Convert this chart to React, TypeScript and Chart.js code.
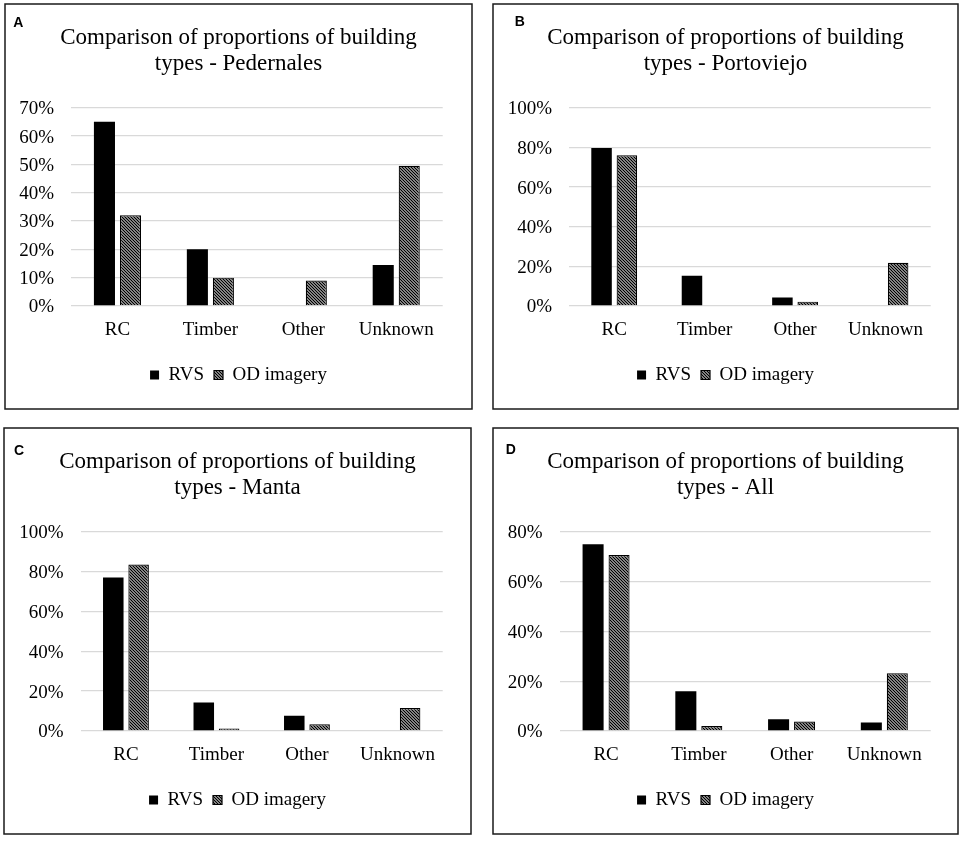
import React, { useEffect, useRef } from "react";
import { Chart, registerables } from "chart.js";
Chart.register(...registerables);

const categories = ["RC", "Timber", "Other", "Unknown"];
const seriesNames = ["RVS", "OD imagery"];

const pedernalesRVS = [65, 20, 0, 14.5];
const pedernalesOD = [32, 10, 9, 49.5];
const portoviejoRVS = [79.7, 15.3, 4.3, 0];
const portoviejoOD = [76, 0, 2.2, 21.8];
const mantaRVS = [77, 14.3, 7.6, 0];
const mantaOD = [83.5, 1.2, 3.4, 11.5];
const allRVS = [75, 16, 4.7, 3.4];
const allOD = [70.6, 2, 3.8, 23.2];

const titleLine1 = "Comparison of proportions of building";
const titleLines2 = ["types - Pedernales", "types - Portoviejo", "types - Manta", "types - All"];
const panelLetters = ["A", "B", "C", "D"];
const yMaxes = [70, 100, 100, 80];
const ySteps = [10, 20, 20, 20];

const rvsSeries = [pedernalesRVS, portoviejoRVS, mantaRVS, allRVS];
const odSeries = [pedernalesOD, portoviejoOD, mantaOD, allOD];

// layout (positions, not data)
const panelBoxes = [
  { x: 4, y: 3, w: 469, h: 407, left: 67, right: 30.3, lx: 9.3, ly: 23.7 },
  { x: 492, y: 3, w: 467, h: 407, left: 77, right: 28.3, lx: 22.7, ly: 23 },
  { x: 3, y: 427, w: 469, h: 408, left: 77.7, right: 29.3, lx: 11, ly: 28 },
  { x: 492, y: 427, w: 467, h: 408, left: 67.7, right: 28.3, lx: 13.7, ly: 27.3 },
];

const SERIF = '"Liberation Serif", "Times New Roman", serif';

function makeHatch(): CanvasPattern | string {
  const c = document.createElement("canvas");
  const s = 3;
  c.width = s;
  c.height = s;
  const g = c.getContext("2d");
  if (!g) return "#888";
  g.fillStyle = "#fff";
  g.fillRect(0, 0, s, s);
  g.strokeStyle = "#000";
  g.lineWidth = 1.4;
  g.beginPath();
  g.moveTo(-1, -1);
  g.lineTo(s + 1, s + 1);
  g.moveTo(-1, s - 1);
  g.lineTo(1, s + 1);
  g.moveTo(s - 1, -1);
  g.lineTo(s + 1, 1);
  g.stroke();
  return g.createPattern(c, "repeat") || "#888";
}

function Panel({ idx }: { idx: number }) {
  const ref = useRef<HTMLCanvasElement | null>(null);
  const box = panelBoxes[idx];
  useEffect(() => {
    if (!ref.current) return;
    const hatch = makeHatch();
    const framePlugin = {
      id: "frame" + idx,
      afterDraw(chart: any) {
        const ctx = chart.ctx;
        ctx.save();
        ctx.strokeStyle = "#1a1a1a";
        ctx.lineWidth = 1.5;
        ctx.strokeRect(1, 1, chart.width - 2, chart.height - 2);
        ctx.fillStyle = "#000";
        ctx.font = 'bold 14px "Liberation Sans", Arial, sans-serif';
        ctx.textBaseline = "alphabetic";
        ctx.textAlign = "left";
        ctx.fillText(panelLetters[idx], box.lx, box.ly);
        ctx.restore();
      },
    };
    const chart = new Chart(ref.current, {
      type: "bar",
      data: {
        labels: categories,
        datasets: [
          {
            label: seriesNames[0],
            data: rvsSeries[idx],
            backgroundColor: "#000",
            borderWidth: 0,
            categoryPercentage: 0.56,
            barPercentage: 0.81,
            yAxisID: "y",
          },
          {
            label: seriesNames[1],
            data: odSeries[idx],
            backgroundColor: hatch as any,
            borderColor: "#000",
            borderWidth: 1.2,
            categoryPercentage: 0.56,
            barPercentage: 0.81,
            yAxisID: "y",
          },
        ],
      },
      options: {
        responsive: false,
        animation: false,
        devicePixelRatio: 1,
        layout: { padding: { left: 0, right: 0, top: 0, bottom: 15.5 } },
        plugins: {
          title: {
            display: true,
            text: [titleLine1, titleLines2[idx]],
            color: "#000",
            font: { family: SERIF, size: 23, weight: "normal" as any, lineHeight: "26px" as any },
            padding: { top: 22, bottom: 30.7 },
          },
          legend: {
            position: "bottom",
            labels: {
              boxWidth: 9,
              boxHeight: 9,
              padding: 10,
              color: "#000",
              font: { family: SERIF, size: 19 },
            },
          },
          tooltip: { enabled: false },
        },
        scales: {
          x: {
            grid: { display: false, drawTicks: false },
            border: { display: false },
            ticks: { color: "#000", font: { family: SERIF, size: 19 }, padding: 13 },
            afterFit: (s: any) => {
              s.height = 49.5;
            },
          },
          y: {
            position: "left",
            min: 0,
            max: yMaxes[idx],
            ticks: {
              stepSize: ySteps[idx],
              color: "#000",
              font: { family: SERIF, size: 19 },
              padding: 17,
              labelOffset: 1.5,
              callback: (v: any) => v + "%",
            },
            grid: { color: "#d9d9d9", lineWidth: 1.3, drawTicks: false },
            border: { display: false },
            afterFit: (s: any) => {
              s.width = box.left;
            },
          },
          spacer: {
            type: "linear",
            position: "right",
            min: 0,
            max: 1,
            ticks: { display: false },
            grid: { display: false, drawTicks: false },
            border: { display: false },
            afterFit: (s: any) => {
              s.width = box.right;
            },
          },
        },
      },
      plugins: [framePlugin],
    });
    return () => chart.destroy();
  }, [idx]);
  return (
    <canvas
      ref={ref}
      width={box.w}
      height={box.h}
      style={{ position: "absolute", left: box.x, top: box.y, width: box.w, height: box.h }}
    />
  );
}

export default function App() {
  return (
    <div style={{ position: "fixed", left: 0, top: 0, width: 963, height: 841, background: "#fff" }}>
      {[0, 1, 2, 3].map((i) => (
        <Panel key={i} idx={i} />
      ))}
    </div>
  );
}
